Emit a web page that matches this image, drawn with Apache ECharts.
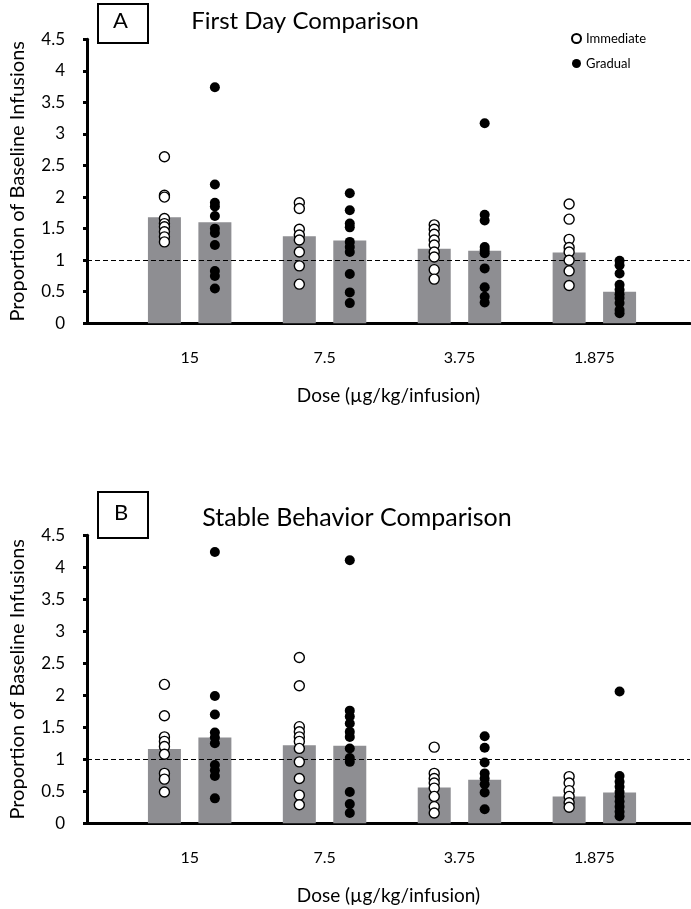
<!DOCTYPE html>
<html>
<head>
<meta charset="utf-8">
<script src="https://cdn.jsdelivr.net/npm/echarts@6/dist/echarts.min.js"></script>
<style>
html,body{margin:0;padding:0;background:#fff;}
#chart{width:691px;height:909px;}
</style>
</head>
<body>
<div id="chart"></div>
<script>
// ---- Data ----
const categories = ['15', '7.5', '3.75', '1.875'];

// Panel A: First Day Comparison
const firstDayImmediateMeans = [1.68, 1.38, 1.18, 1.12];
const firstDayGradualMeans   = [1.60, 1.31, 1.15, 0.50];
const firstDayImmediate = [
  [2.64, 2.03, 2.00, 1.66, 1.58, 1.53, 1.45, 1.37, 1.29],
  [1.91, 1.82, 1.49, 1.40, 1.32, 1.13, 0.91, 0.62],
  [1.56, 1.49, 1.41, 1.32, 1.24, 1.13, 1.05, 0.85, 0.70],
  [1.89, 1.65, 1.33, 1.20, 1.13, 1.00, 0.83, 0.60]
];
const firstDayGradual = [
  [3.74, 2.20, 1.91, 1.85, 1.70, 1.50, 1.43, 1.24, 0.83, 0.75, 0.55],
  [2.06, 1.79, 1.58, 1.52, 1.29, 1.21, 1.13, 0.78, 0.49, 0.32],
  [3.17, 1.72, 1.63, 1.21, 1.16, 1.11, 0.87, 0.57, 0.42, 0.33],
  [0.99, 0.92, 0.79, 0.61, 0.53, 0.46, 0.40, 0.32, 0.21, 0.16]
];

// Panel B: Stable Behavior Comparison
const stableImmediateMeans = [1.16, 1.22, 0.56, 0.42];
const stableGradualMeans   = [1.34, 1.21, 0.68, 0.48];
const stableImmediate = [
  [2.17, 1.68, 1.35, 1.28, 1.20, 1.08, 0.78, 0.69, 0.49],
  [2.59, 2.15, 1.51, 1.43, 1.35, 1.28, 1.17, 0.96, 0.70, 0.44, 0.29],
  [1.19, 0.78, 0.70, 0.63, 0.55, 0.42, 0.26, 0.16],
  [0.73, 0.63, 0.51, 0.42, 0.32, 0.25]
];
const stableGradual = [
  [4.24, 1.99, 1.70, 1.42, 1.34, 1.25, 0.91, 0.83, 0.74, 0.39],
  [4.11, 1.76, 1.67, 1.56, 1.43, 1.35, 1.17, 1.02, 0.96, 0.49, 0.30, 0.16],
  [1.36, 1.18, 0.95, 0.78, 0.70, 0.61, 0.48, 0.22],
  [2.06, 0.74, 0.65, 0.57, 0.49, 0.42, 0.34, 0.26, 0.18, 0.11]
];

const yTickLabels = ['0', '0.5', '1', '1.5', '2', '2.5', '3', '3.5', '4', '4.5'];
const baseline = 1;

// ---- Layout helpers ----
const FONT = 'Lato, "Open Sans", sans-serif';
const XMIN = 0.239, XMAX = 4.709;
const OFF = 0.187;

function barData(immMeans, gradMeans) {
  const d = [];
  for (let i = 0; i < categories.length; i++) {
    d.push([i + 1 - OFF, immMeans[i]]);
    d.push([i + 1 + OFF, gradMeans[i]]);
  }
  return d;
}
function pointData(groups, sign) {
  const d = [];
  groups.forEach((g, i) => g.forEach(v => d.push([i + 1 + sign * OFF, v])));
  return d;
}

const grids = [
  {left: 79, top: 39.3, width: 611, height: 284},
  {left: 79, top: 535.3, width: 611, height: 288}
];

function xAxisCfg(gi) {
  return {
    gridIndex: gi, type: 'value', min: XMIN, max: XMAX,
    name: 'Dose (\u00b5g/kg/infusion)', nameLocation: 'middle', nameGap: 63,
    nameTextStyle: {fontFamily: FONT, fontSize: 19, color: '#000'},
    axisLine: {show: true, onZero: false, lineStyle: {color: '#000', width: 3}},
    axisTick: {show: false},
    splitLine: {show: false},
    axisLabel: {
      customValues: [1, 2, 3, 4],
      formatter: v => categories[Math.round(v) - 1],
      fontFamily: FONT, fontSize: 16, color: '#000', margin: 27
    }
  };
}
function yAxisCfg(gi) {
  return {
    gridIndex: gi, type: 'value', min: 0, max: 4.5, interval: 0.5,
    name: 'Proportion of Baseline Infusions', nameLocation: 'middle', nameGap: 59,
    nameRotate: 90,
    nameTextStyle: {fontFamily: FONT, fontSize: 20, color: '#000'},
    axisLine: {show: true, lineStyle: {color: '#000', width: 3}},
    axisTick: {show: true, length: 4, lineStyle: {color: '#000', width: 3}},
    splitLine: {show: false},
    axisLabel: {
      formatter: v => yTickLabels[Math.round(v * 2)],
      fontFamily: FONT, fontSize: 17, color: '#000', margin: 22
    }
  };
}

function panelSeries(gi, immMeans, gradMeans, imm, grad) {
  return [
    {
      type: 'bar', xAxisIndex: gi, yAxisIndex: gi, barWidth: 33,
      data: barData(immMeans, gradMeans),
      itemStyle: {color: '#8e8e92'},
      silent: true,
      markLine: {
        silent: true, symbol: 'none', label: {show: false},
        lineStyle: {color: '#000', type: [5, 3], width: 1.2},
        data: [{yAxis: baseline}]
      }
    },
    {
      name: 'Immediate', type: 'scatter', xAxisIndex: gi, yAxisIndex: gi,
      symbol: 'circle', symbolSize: 10, z: 5,
      itemStyle: {color: '#fff', borderColor: '#000', borderWidth: 1.4, opacity: 1},
      data: pointData(imm, -1)
    },
    {
      name: 'Gradual', type: 'scatter', xAxisIndex: gi, yAxisIndex: gi,
      symbol: 'circle', symbolSize: 10, z: 5,
      itemStyle: {color: '#000', opacity: 1},
      data: pointData(grad, 1)
    }
  ];
}

const chart = echarts.init(document.getElementById('chart'), null, {renderer: 'canvas'});
chart.setOption({
  animation: false,
  backgroundColor: '#fff',
  grid: grids,
  xAxis: [xAxisCfg(0), xAxisCfg(1)],
  yAxis: [yAxisCfg(0), yAxisCfg(1)],
  title: [
    {text: 'First Day Comparison', left: 300, top: 4, textAlign: 'center',
     textStyle: {fontFamily: FONT, fontSize: 24, fontWeight: 'normal', color: '#000'}},
    {text: 'Stable Behavior Comparison', left: 352, top: 500, textAlign: 'center',
     textStyle: {fontFamily: FONT, fontSize: 25, fontWeight: 'normal', color: '#000'}}
  ],
  legend: {
    orient: 'vertical', left: 566, top: 27, itemGap: 12,
    itemWidth: 9, itemHeight: 9, icon: 'circle',
    data: ['Immediate', 'Gradual'],
    textStyle: {fontFamily: FONT, fontSize: 13, color: '#000'},
    selectedMode: false
  },
  graphic: [
    {type: 'rect', left: 97, top: 3, shape: {width: 50, height: 39},
     style: {fill: '#fff', stroke: '#000', lineWidth: 2}},
    {type: 'text', left: 113, top: 10,
     style: {text: 'A', font: '22px ' + FONT, fill: '#000'}},
    {type: 'rect', left: 97, top: 491, shape: {width: 50, height: 46},
     style: {fill: '#fff', stroke: '#000', lineWidth: 2}},
    {type: 'text', left: 114, top: 502,
     style: {text: 'B', font: '22px ' + FONT, fill: '#000'}}
  ],
  series: [
    ...panelSeries(0, firstDayImmediateMeans, firstDayGradualMeans, firstDayImmediate, firstDayGradual),
    ...panelSeries(1, stableImmediateMeans, stableGradualMeans, stableImmediate, stableGradual)
  ]
});
</script>
</body>
</html>
